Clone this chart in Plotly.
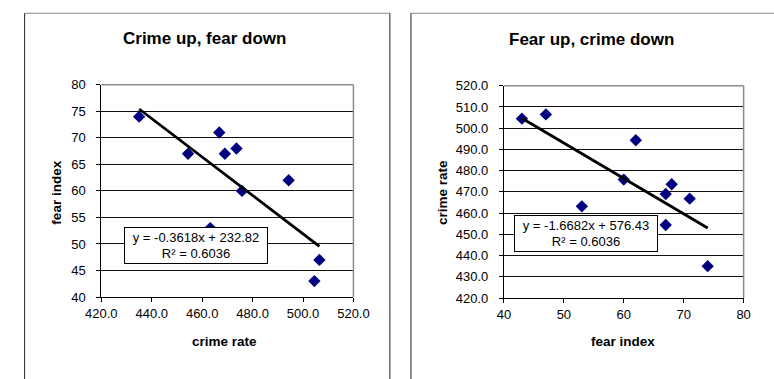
import plotly.graph_objects as go

# Paired observations: crime rate and fear index
crime_rate = [504.5, 506.5, 463.2, 475.8, 494.3, 469.0, 454.4, 473.6, 466.8, 435.0]
fear_index = [43, 47, 53, 60, 62, 67, 67, 68, 71, 74]

# Linear trend fits (as reported in the equation boxes)
fit_fear_on_crime = {"slope": -0.3618, "intercept": 232.82, "r2": 0.6036}
fit_crime_on_fear = {"slope": -1.6682, "intercept": 576.43, "r2": 0.6036}

titles = ["Crime up, fear down", "Fear up, crime down"]
crime_ticks = [420.0, 440.0, 460.0, 480.0, 500.0, 520.0]
crime_ticks_right = [420.0, 430.0, 440.0, 450.0, 460.0, 470.0, 480.0, 490.0, 500.0, 510.0, 520.0]
fear_ticks = [40, 45, 50, 55, 60, 65, 70, 75, 80]
fear_ticks_right = [40, 50, 60, 70, 80]

W, H = 774, 379
FONT = "Liberation Sans, Arial, sans-serif"
MARKER = "#000080"


def px(x):
    return x / W


def py(y):
    return 1 - y / H


fig = go.Figure()


def trend(xs, fit):
    lo, hi = min(xs), max(xs)
    return [lo, hi], [fit["slope"] * lo + fit["intercept"], fit["slope"] * hi + fit["intercept"]]


def eq_text(fit):
    return f"y = {fit['slope']:.4f}x + {fit['intercept']:.2f}<br>R² = {fit['r2']:.4f}"


# Left panel: fear index against crime rate
fig.add_trace(go.Scatter(x=crime_rate, y=fear_index, mode="markers",
                         marker=dict(symbol="diamond", size=9.5, color=MARKER),
                         xaxis="x", yaxis="y", showlegend=False))
tx, ty = trend(crime_rate, fit_fear_on_crime)
fig.add_trace(go.Scatter(x=tx, y=ty, mode="lines", line=dict(color="black", width=2.8),
                         xaxis="x", yaxis="y", showlegend=False))

# Right panel: crime rate against fear index
fig.add_trace(go.Scatter(x=fear_index, y=crime_rate, mode="markers",
                         marker=dict(symbol="diamond", size=9.5, color=MARKER),
                         xaxis="x2", yaxis="y2", showlegend=False))
tx, ty = trend(fear_index, fit_crime_on_fear)
fig.add_trace(go.Scatter(x=tx, y=ty, mode="lines", line=dict(color="black", width=2.8),
                         xaxis="x2", yaxis="y2", showlegend=False))

tickfont = dict(family=FONT, size=13, color="black")
common_x = dict(showline=True, linecolor="black", linewidth=1, ticks="outside", ticklen=4,
                tickcolor="black", showgrid=False, zeroline=False, tickfont=tickfont)
common_y = dict(showline=True, linecolor="black", linewidth=1, ticks="outside", ticklen=4,
                tickcolor="black", showgrid=True, gridcolor="#111111", gridwidth=1,
                zeroline=False, tickfont=tickfont, ticklabelstandoff=8)

L = dict(x0=89, x1=352, y0=81, y1=302)
R = dict(x0=509, x1=759, y0=82, y1=303)

fig.update_layout(
    width=W, height=H, margin=dict(l=0, r=0, t=0, b=0),
    paper_bgcolor="white", plot_bgcolor="white",
    xaxis=dict(domain=[px(L["x0"]), px(L["x1"])], range=[420, 520], tickvals=crime_ticks,
               ticktext=[f"{v:.1f}" for v in crime_ticks], anchor="y", **common_x),
    yaxis=dict(domain=[py(L["y1"]), py(L["y0"])], range=[40, 80], tickvals=fear_ticks,
               anchor="x", **common_y),
    xaxis2=dict(domain=[px(R["x0"]), px(R["x1"])], range=[40, 80], tickvals=fear_ticks_right,
                anchor="y2", **common_x),
    yaxis2=dict(domain=[py(R["y1"]), py(R["y0"])], range=[420, 520], tickvals=crime_ticks_right,
                ticktext=[f"{v:.1f}" for v in crime_ticks_right], anchor="x2", **common_y),
)

shapes = []
# Chart-area frames (they run past the bottom and right edges of the page)
for x0, x1 in [(9, 390), (412, 800)]:
    shapes.append(dict(type="line", xref="paper", yref="paper", x0=px(x0), x1=px(x1),
                       y0=py(6.5), y1=py(6.5), line=dict(color="#8a8a8a", width=1)))
    for xv in (x0, x1):
        shapes.append(dict(type="line", xref="paper", yref="paper", x0=px(xv), x1=px(xv),
                           y0=py(6.5), y1=py(400), line=dict(color="#222222", width=1)))
# Plot-area borders: top and right edges in gray
for P in (L, R):
    shapes.append(dict(type="line", xref="paper", yref="paper", x0=px(P["x0"]), x1=px(P["x1"]),
                       y0=py(P["y0"]), y1=py(P["y0"]), line=dict(color="#8c8c8c", width=1.5),
                       layer="above"))
    shapes.append(dict(type="line", xref="paper", yref="paper", x0=px(P["x1"]), x1=px(P["x1"]),
                       y0=py(P["y0"]), y1=py(P["y1"]), line=dict(color="#8c8c8c", width=1.5),
                       layer="above"))
fig.update_layout(shapes=shapes)

bold = dict(family=FONT, color="black", weight="bold")
ann = [
    dict(text=titles[0], x=px(197), y=py(33), font=dict(size=17, **bold)),
    dict(text=titles[1], x=px(600), y=py(34), font=dict(size=17, **bold)),
    dict(text="crime rate", x=px(217), y=py(348), font=dict(size=13.5, **bold)),
    dict(text="fear index", x=px(42), y=py(193), textangle=-90, font=dict(size=13.5, **bold)),
    dict(text="fear index", x=px(633), y=py(348), font=dict(size=13.5, **bold)),
    dict(text="crime rate", x=px(445), y=py(193), textangle=-90, font=dict(size=13.5, **bold)),
]
annotations = [dict(xref="paper", yref="paper", showarrow=False, xanchor="center",
                    yanchor="middle", **a) for a in ann]
# Trend-line equation boxes
for (cx, cy), fit in [((188, 248.5), fit_fear_on_crime), ((594.5, 235.5), fit_crime_on_fear)]:
    annotations.append(dict(xref="paper", yref="paper", x=px(cx), y=py(cy), showarrow=False,
                            xanchor="center", yanchor="middle", text=eq_text(fit),
                            font=dict(family=FONT, size=13, color="black"),
                            bgcolor="white", bordercolor="black", borderwidth=1, borderpad=2,
                            width=138, height=31, align="center"))
fig.update_layout(annotations=annotations)

fig.write_html("out.html")
